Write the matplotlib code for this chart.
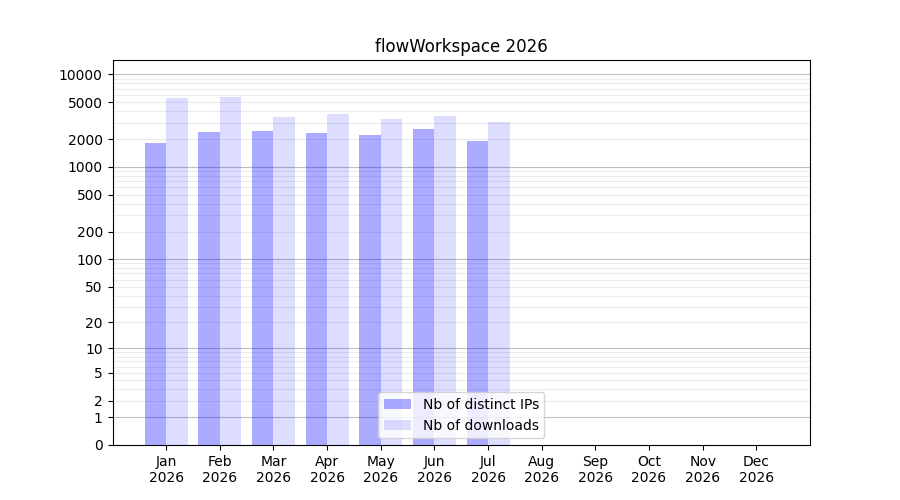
import numpy as np
import matplotlib
matplotlib.use("Agg")
import matplotlib.pyplot as plt
from matplotlib.ticker import FixedLocator, NullFormatter

months = ["Jan", "Feb", "Mar", "Apr", "May", "Jun", "Jul", "Aug", "Sep", "Oct", "Nov", "Dec"]
year = "2026"
ips = [1815, 2390, 2445, 2330, 2215, 2570, 1905]
downloads = [5560, 5690, 3460, 3730, 3300, 3550, 3060]
ytick_vals = [0, 1, 2, 5, 10, 20, 50, 100, 200, 500, 1000, 2000, 5000, 10000]

def fwd(x):
    return np.log10(1 + np.clip(x, 0, None))

def inv(y):
    return 10 ** y - 1

fig, ax = plt.subplots(figsize=(9, 5), dpi=100)
ax.set_yscale("function", functions=(fwd, inv))

x_ip = np.arange(len(ips))
x_dl = np.arange(len(downloads))
ax.bar(x_ip - 0.2, ips, width=0.4, color="blue", alpha=0.33, label="Nb of distinct IPs")
ax.bar(x_dl + 0.2, downloads, width=0.4, color="blue", alpha=0.135, label="Nb of downloads")

ax.set_xlim(-1, 12)
ax.set_ylim(0, 14280)
ax.set_xticks(np.arange(len(months)))
ax.set_xticklabels([f"{m}\n{year}" for m in months])

ax.yaxis.set_major_locator(FixedLocator(ytick_vals))
ax.set_yticklabels([str(v) for v in ytick_vals])
minor = []
for d in [1, 10, 100, 1000, 10000]:
    for k in range(2, 10):
        if d * k <= 14280:
            minor.append(d * k)
ax.yaxis.set_minor_locator(FixedLocator(minor))
ax.yaxis.set_minor_formatter(NullFormatter())
ax.tick_params(axis="y", which="minor", length=0)

# major grid only at decades
for v in [1, 10, 100, 1000, 10000]:
    ax.axhline(v, color="gray", alpha=0.5, linewidth=0.8, zorder=0.5)
for v in minor:
    ax.axhline(v, color="gray", alpha=0.15, linewidth=0.8, zorder=0.5)

ax.set_title("flowWorkspace 2026")
ax.legend(loc="lower center")
fig.savefig("out.png", dpi=100)
